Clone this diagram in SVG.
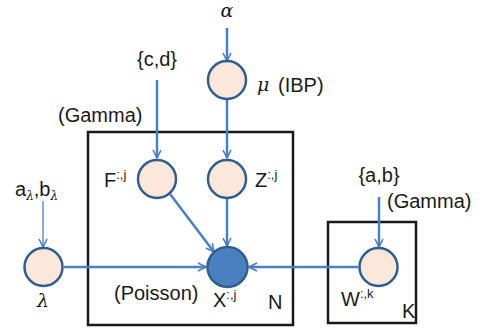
<svg xmlns="http://www.w3.org/2000/svg" width="488" height="333" viewBox="0 0 488 333">
<defs>
<marker id="ah" viewBox="0 0 10 10" refX="9" refY="5" markerWidth="10" markerHeight="10" markerUnits="userSpaceOnUse" orient="auto">
<path d="M1,1 L9,5 L1,9" fill="none" stroke="#4a80c0" stroke-width="1.6"/>
</marker>
</defs>
<style>
.n{fill:#fce8da;stroke:#2f5e8e;stroke-width:2.5}
.o{fill:#4a7fc0;stroke:#2f5e8e;stroke-width:2.5}
.e{stroke:#4a80c0;stroke-width:2.5;fill:none;marker-end:url(#ah)}
.t{font-family:"Liberation Sans",Arial,sans-serif;font-size:20px;fill:#1a1a1a}
.s{font-size:13px}
.g{font-family:"DejaVu Serif","Liberation Serif",serif;font-style:italic;font-size:19px;fill:#1a1a1a}
.p{fill:none;stroke:#1a1a1a;stroke-width:2.5}
</style>
<rect class="p" x="88" y="132" width="205" height="193"/>
<rect class="p" x="328" y="222" width="88" height="101"/>
<g id="connectors">
<path class="e" d="M227,28 V61"/>
<path class="e" d="M227,100 V158"/>
<path class="e" d="M157,80 V158"/>
<path class="e" d="M227,199 V246"/>
<path class="e" d="M170,194 L214,252"/>
<path class="e" d="M43,201 V247" style="stroke-width:1.3"/>
<path class="e" d="M64,267 H206"/>
<path class="e" d="M358,267 H249"/>
<path class="e" d="M379,197 V247"/>
</g>
<g id="alpha"><text class="g" x="227" y="17" text-anchor="middle">α</text></g>
<g id="mu"><circle class="n" cx="227" cy="80" r="19"/><text class="g" x="257" y="91">μ</text><text class="t" x="278" y="92">(IBP)</text></g>
<g id="cd"><text class="t" x="157" y="66" text-anchor="middle">{c,d}</text></g>
<g id="gamma1"><text class="t" x="58" y="122">(Gamma)</text></g>
<g id="F"><circle class="n" cx="157" cy="179" r="19"/><text class="t" x="104" y="187">F<tspan class="s" dy="-8">:,j</tspan></text></g>
<g id="Z"><circle class="n" cx="227" cy="179" r="19"/><text class="t" x="255" y="187">Z<tspan class="s" dy="-8">:,j</tspan></text></g>
<g id="ablambda"><text class="t" x="15" y="196">a<tspan class="g" style="font-size:12px" dy="4">λ</tspan><tspan dy="-4">,b</tspan><tspan class="g" style="font-size:12px" dy="4">λ</tspan></text></g>
<g id="lambda"><circle class="n" cx="43.5" cy="267" r="19"/><text class="g" x="43" y="307" text-anchor="middle">λ</text></g>
<g id="X"><circle class="o" cx="227.5" cy="267" r="20"/><text class="t" x="213" y="307">X<tspan class="s" dy="-8">:,j</tspan></text></g>
<g id="poisson"><text class="t" x="114" y="300">(Poisson)</text></g>
<g id="Nlabel"><text class="t" x="268" y="309">N</text></g>
<g id="ab"><text class="t" x="379" y="182" text-anchor="middle">{a,b}</text></g>
<g id="gamma2"><text class="t" x="387" y="208">(Gamma)</text></g>
<g id="W"><circle class="n" cx="378.5" cy="267" r="19"/><text class="t" x="341" y="306">W<tspan class="s" dy="-8">:,k</tspan></text></g>
<g id="Klabel"><text class="t" x="402" y="318">K</text></g>
</svg>
